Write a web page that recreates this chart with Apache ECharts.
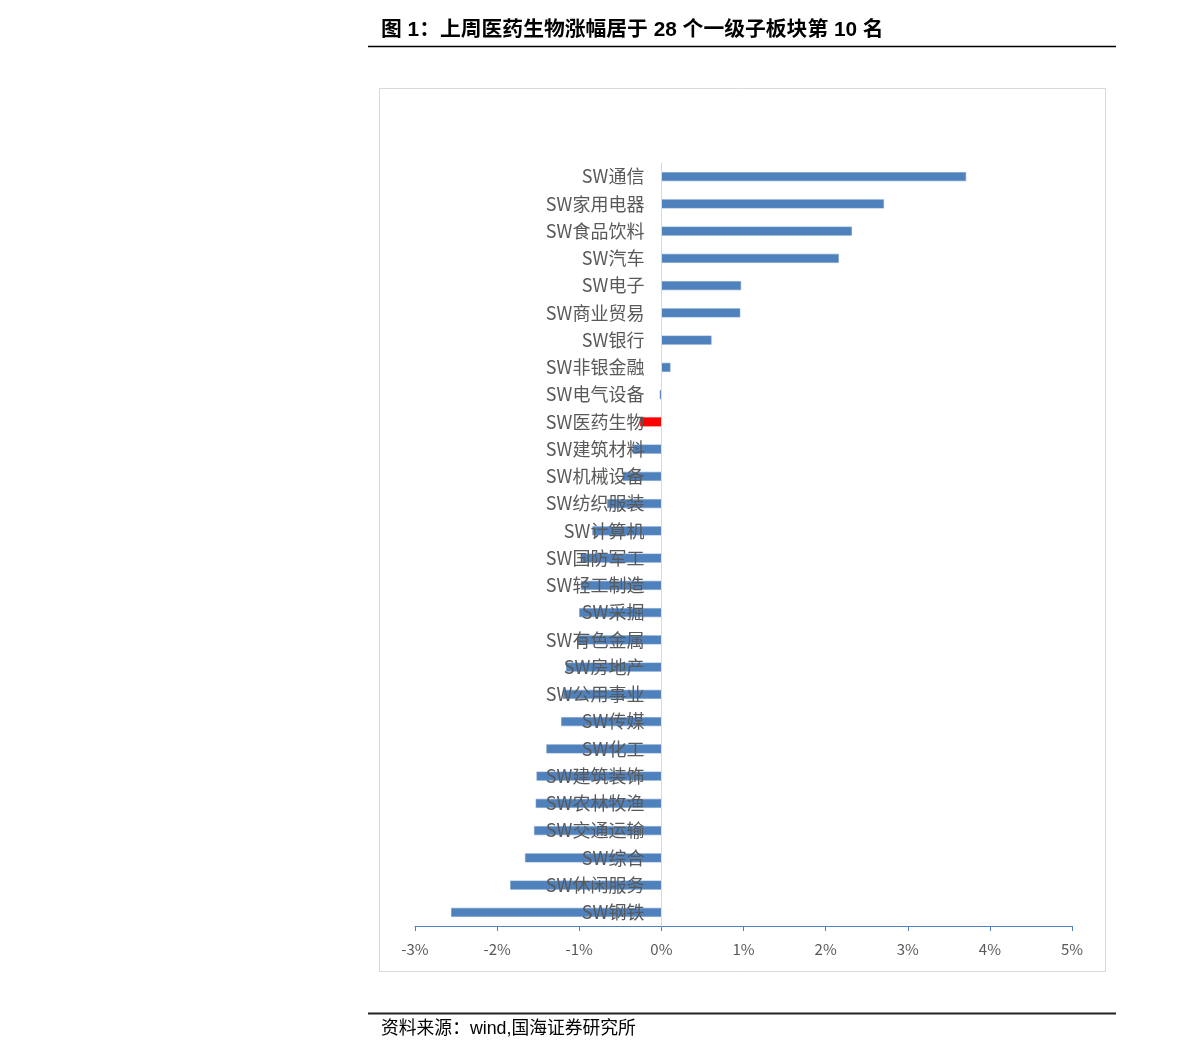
<!DOCTYPE html>
<html>
<head>
<meta charset="utf-8">
<script src="https://cdn.jsdelivr.net/npm/echarts@6/dist/echarts.min.js"></script>
<style>
html,body{margin:0;padding:0;background:#fff;}
#c{width:1191px;height:1061px;}
</style>
</head>
<body>
<div id="c"></div>
<script>
const titleText = '图 1：上周医药生物涨幅居于 28 个一级子板块第 10 名';
const sourceText = '资料来源：wind,国海证券研究所';
const categories = ['SW通信','SW家用电器','SW食品饮料','SW汽车','SW电子','SW商业贸易','SW银行','SW非银金融','SW电气设备','SW医药生物','SW建筑材料','SW机械设备','SW纺织服装','SW计算机','SW国防军工','SW轻工制造','SW采掘','SW有色金属','SW房地产','SW公用事业','SW传媒','SW化工','SW建筑装饰','SW农林牧渔','SW交通运输','SW综合','SW休闲服务','SW钢铁'];
const values = [3.71, 2.71, 2.32, 2.16, 0.97, 0.96, 0.61, 0.11, -0.02, -0.26, -0.35, -0.47, -0.66, -0.84, -0.97, -0.98, -1.00, -1.02, -1.16, -1.20, -1.22, -1.40, -1.52, -1.53, -1.55, -1.66, -1.84, -2.56];
const highlightName = 'SW医药生物';
const xMin = -3, xMax = 5, xStep = 1;

const chart = echarts.init(document.getElementById('c'));
const cjk = '"Noto Sans CJK SC", sans-serif';
const mixed = '"Liberation Sans", "Noto Sans CJK SC", sans-serif';
const gridLeft = 415, gridRight = 119;
const plotW = 1191 - gridLeft - gridRight;
const zeroOffset = -plotW * (0 - xMin) / (xMax - xMin);
chart.setOption({
  animation: false,
  backgroundColor: '#fff',
  grid: {left: gridLeft, right: gridRight, top: 163, bottom: 135, containLabel: false},
  graphic: [
    {type: 'text', left: 381, top: 20, z: 10, style: {text: titleText, font: 'bold 20.8px ' + mixed, fill: '#000'}},
    {type: 'line', z: 10, shape: {x1: 368, y1: 46.5, x2: 1116, y2: 46.5}, style: {stroke: '#000', lineWidth: 1.5}},
    {type: 'rect', z: -1, shape: {x: 379.5, y: 88.5, width: 726, height: 883}, style: {fill: '#fff', stroke: '#D9D9D9', lineWidth: 1}},
    {type: 'line', z: 10, shape: {x1: 368, y1: 1013.5, x2: 1116, y2: 1013.5}, style: {stroke: '#222', lineWidth: 2}},
    {type: 'text', left: 381, top: 1020, z: 10, style: {text: sourceText, font: '17.8px ' + mixed, fill: '#000'}}
  ],
  xAxis: {
    type: 'value', min: xMin, max: xMax, interval: xStep,
    axisLine: {show: true, onZero: false, lineStyle: {color: '#4F81BD', width: 1}},
    axisTick: {show: true, length: 5, lineStyle: {color: '#4F81BD'}},
    splitLine: {show: false},
    axisLabel: {formatter: v => v + '%', color: '#595959', fontSize: 15, fontFamily: cjk, margin: 16}
  },
  yAxis: {
    type: 'category', data: categories, inverse: true, z: 10, offset: zeroOffset,
    axisLine: {show: true, onZero: false, lineStyle: {color: '#D9D9D9', width: 1}},
    axisTick: {show: false},
    axisLabel: {color: '#595959', fontSize: 18, fontFamily: cjk, margin: 17}
  },
  series: [{
    type: 'bar', barWidth: 9,
    data: values.map((v, i) => categories[i] === highlightName
      ? {value: v, itemStyle: {color: '#FF0000', borderColor: '#FF0000'}}
      : v),
    itemStyle: {color: '#4F81BD', borderColor: '#6E97C8', borderWidth: 0.6}
  }]
});
</script>
</body>
</html>
